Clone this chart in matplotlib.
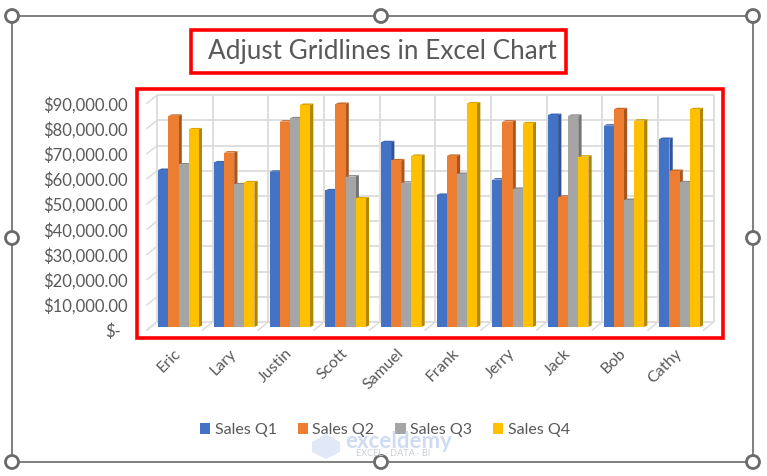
import matplotlib
matplotlib.use('Agg')
import matplotlib.pyplot as plt
import numpy as np
from matplotlib.patches import Circle, Polygon, Rectangle
from matplotlib.transforms import ScaledTranslation

names = ['Eric', 'Lary', 'Justin', 'Scott', 'Samuel', 'Frank', 'Jerry', 'Jack', 'Bob', 'Cathy']
sales_q1 = [62300, 65300, 61600, 54200, 73300, 52400, 58500, 84100, 79900, 74600]
sales_q2 = [83800, 69200, 81500, 88500, 66100, 67900, 81500, 51700, 86400, 61900]
sales_q3 = [64500, 56600, 82800, 59700, 57300, 60700, 54800, 83800, 50400, 57400]
sales_q4 = [78400, 57400, 88100, 51000, 67900, 88700, 80800, 67600, 81900, 86400]
series_names = ['Sales Q1', 'Sales Q2', 'Sales Q3', 'Sales Q4']
y_ticks = [0, 10000, 20000, 30000, 40000, 50000, 60000, 70000, 80000, 90000]
y_labels = ['$-', '$10,000.00', '$20,000.00', '$30,000.00', '$40,000.00',
            '$50,000.00', '$60,000.00', '$70,000.00', '$80,000.00', '$90,000.00']

colors = ['#4472C4', '#ED7D31', '#A5A5A5', '#FFC000']
side_colors = ['#2F5597', '#A9561F', '#747474', '#B38600']
top_colors = ['#3A64AE', '#C96A2A', '#8C8C8C', '#D9A300']
text_color = '#595959'
frame_color = '#6A6A6A'

W, H = 767, 476
plt.rcParams['font.family'] = ['Lato', 'DejaVu Sans']
fig = plt.figure(figsize=(W / 100, H / 100), dpi=100)

# plot area, in picture pixels
left, right, bottom, top = 147, 720, 327, 100.2
pitch = 55.67
first_centre = 178.5
ax = fig.add_axes([left / W, 1 - bottom / H, (right - left) / W, (bottom - top) / H])
ax.set_xlim((left - first_centre) / pitch, (right - first_centre) / pitch)
ax.set_ylim(0, 90000)
ax.patch.set_visible(False)
for s in ax.spines.values():
    s.set_visible(False)

px_y = 90000 / (bottom - top)  # dollars per pixel
px_x = 1 / pitch
bar_w = 10.1 * px_x
dep_x = 3.3 * px_x
dep_y = 1.5 * px_y
grid_c = '#DCDCDC'

# back wall and floor
x_pos = np.arange(len(names))
wall_x = np.arange(len(names) + 1) - 0.386
front_x = np.arange(len(names) + 1) - 0.566
lift = 5 * px_y
drop = 3 * px_y
ax.hlines(np.array(y_ticks) + lift, wall_x[0], wall_x[-1], color=grid_c, lw=1.3, zorder=1, clip_on=False)
ax.vlines(wall_x, lift, 90000 + lift, color=grid_c, lw=1.3, zorder=1, clip_on=False)
for v in y_ticks:
    ax.plot([front_x[0], wall_x[0]], [v - drop, v + lift], color=grid_c, lw=1.1, zorder=1, clip_on=False)
for a, b in zip(front_x, wall_x):
    ax.plot([a, b], [-drop, lift], color=grid_c, lw=1.1, zorder=1, clip_on=False)

# bars with fake depth
handles = []
for i, vals in enumerate([sales_q1, sales_q2, sales_q3, sales_q4]):
    xs = x_pos + (i - 1.5) * bar_w
    z = 3 + i * 0.1
    for x, v in zip(xs, vals):
        x1 = x + bar_w / 2
        x0 = x - bar_w / 2
        ax.add_patch(Polygon([(x1, 0), (x1 + dep_x, dep_y), (x1 + dep_x, v + dep_y), (x1, v)],
                             fc=side_colors[i], ec='none', zorder=z, clip_on=False))
        ax.add_patch(Polygon([(x0, v), (x0 + dep_x, v + dep_y), (x1 + dep_x, v + dep_y), (x1, v)],
                             fc=top_colors[i], ec='none', zorder=z, clip_on=False))
    b = ax.bar(xs, vals, bar_w, color=colors[i], zorder=z + 0.05, label=series_names[i], clip_on=False)
    handles.append(b)

ax.set_xticks(x_pos, names, rotation=45, ha='right', rotation_mode='anchor',
              fontsize=11.5, color=text_color)
ax.set_yticks(y_ticks, y_labels, fontsize=12, color=text_color)
ax.tick_params(axis='both', length=0)
ax.tick_params(axis='x', pad=14)
ax.tick_params(axis='y', pad=14)
for lab in ax.get_xticklabels():
    lab.set_transform(lab.get_transform() + ScaledTranslation(-5 / 100, 0, fig.dpi_scale_trans))
for k, lab in enumerate(ax.get_yticklabels()):
    shift = -7 if k == 0 else 0
    lab.set_transform(lab.get_transform() + ScaledTranslation(shift / 100, -3 / 100, fig.dpi_scale_trans))

fig.legend(handles=handles, labels=series_names, loc='center', ncol=4,
           bbox_to_anchor=(385 / W, 1 - 430 / H), frameon=False, fontsize=11.5,
           labelcolor=text_color, handlelength=0.65, handleheight=0.65,
           handletextpad=0.28, columnspacing=1.3)

# selection frame, handles, red boxes and watermark on a pixel overlay
ov = fig.add_axes([0, 0, 1, 1], zorder=10)
ov.set_xlim(0, W)
ov.set_ylim(H, 0)
ov.axis('off')

ov.text(382, 51, 'Adjust Gridlines in Excel Chart', ha='center', va='center',
        fontsize=18.8, color=text_color)

# watermark
ov.add_patch(Polygon([(312, 442), (326, 434), (340, 442), (340, 452), (326, 459), (312, 452)],
                     fc='#DCE6F7', ec='none', alpha=0.85))
ov.text(345, 442, 'exceldemy', fontsize=16, fontweight='bold', color='#C5D5F2', va='center', ha='left', alpha=0.85)
ov.text(356, 454, 'EXCEL · DATA · BI', fontsize=6.6, color='#C9CDD3', va='center', ha='left')

ov.add_patch(Rectangle((12, 16), 741, 446, fc='none', ec=frame_color, lw=1.2))
ov.add_patch(Rectangle((191, 30), 375, 43, fc='none', ec='#FF0000', lw=2.6))
ov.add_patch(Rectangle((136.5, 88.5), 586.5, 249, fc='none', ec='#FF0000', lw=2.6))
for cx, cy in [(12, 16), (381, 16), (753, 16), (12, 238), (753, 238), (12, 462), (381, 462), (753, 462)]:
    ov.add_patch(Circle((cx, cy), 6.5, fc='white', ec=frame_color, lw=2))

fig.savefig('out.png', dpi=100)
